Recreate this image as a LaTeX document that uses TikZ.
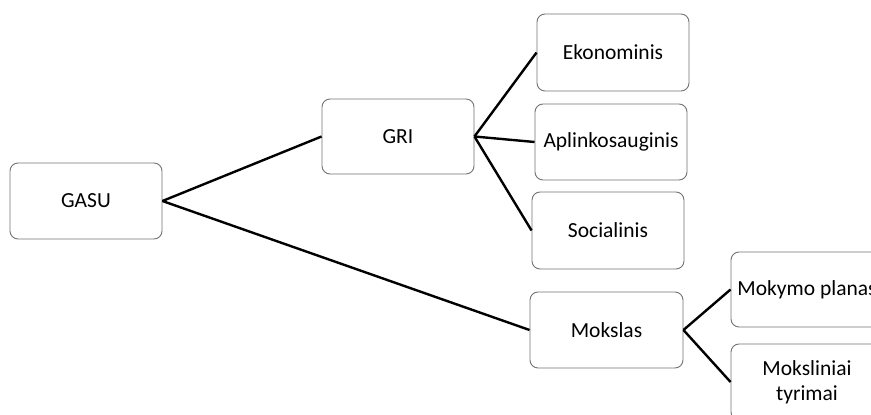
\documentclass[tikz,border=0pt]{standalone}
\usepackage{fontspec}
\setmainfont{Carlito}
\begin{document}
\begin{tikzpicture}[x=1pt,y=-1pt,
  box/.style={draw=black!55,line width=0.9pt,rounded corners=8pt,fill=white,
    minimum width=152pt,minimum height=76pt,inner sep=0pt,align=center,
    font=\fontsize{21.5}{25}\selectfont},
  conn/.style={draw=black,line width=2.4pt}]
\useasboundingbox (0,0) rectangle (871,415);
\clip (0,0) rectangle (871,415);
\node[box] (gasu) at (86,201) {GASU};
\node[box,minimum height=75pt] (gri) at (398,136.5) {GRI};
\node[box,minimum height=77pt] (eko) at (613,52.5) {Ekonominis};
\node[box] (apl) at (611,142) {Aplinkosauginis};
\node[box,minimum height=77pt] (soc) at (608,230.5) {Socialinis};
\node[box,minimum width=153pt] (mok) at (606.5,330) {Mokslas};
\node[box,minimum height=75pt] (plan) at (807,289.5) {Mokymo planas};
\node[box] (tyr) at (807,382) {Moksliniai\\tyrimai};
\draw[conn] (gasu.east) -- (gri.west);
\draw[conn] (gasu.east) -- (mok.west);
\draw[conn] (gri.east) -- (eko.west);
\draw[conn] (gri.east) -- (apl.west);
\draw[conn] (gri.east) -- (soc.west);
\draw[conn] (mok.east) -- (plan.west);
\draw[conn] (mok.east) -- (tyr.west);
\end{tikzpicture}
\end{document}
